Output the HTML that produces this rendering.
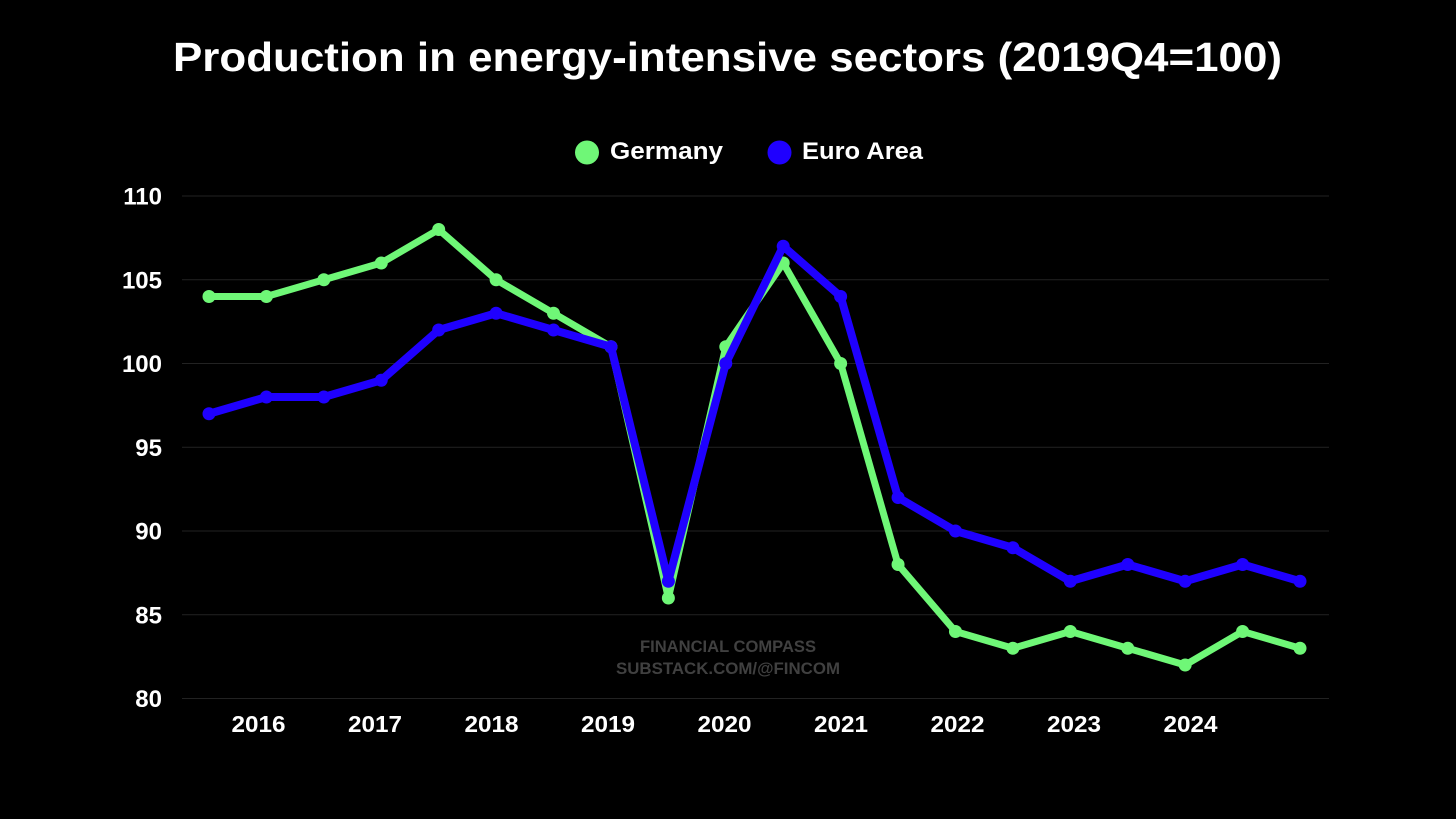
<!DOCTYPE html>
<html lang="en">
<head>
<meta charset="utf-8">
<title>Production in energy-intensive sectors</title>
<style>
html,body{margin:0;padding:0;background:#000;width:1456px;height:819px;overflow:hidden}
svg{display:block}
text{font-family:"Liberation Sans",sans-serif}
</style>
</head>
<body>
<svg id="chart" width="1456" height="819" viewBox="0 0 1456 819" xmlns="http://www.w3.org/2000/svg">
  <rect width="1456" height="819" fill="#000"/>
  <text x="173" y="71" font-size="41" font-weight="700" fill="#fff" textLength="1109" lengthAdjust="spacingAndGlyphs">Production in energy-intensive sectors (2019Q4=100)</text>
  <g>
    <g>
      <circle cx="587" cy="152.500" r="12" fill="#6ff777"/>
      <text x="610" y="159" font-size="24" font-weight="700" fill="#fff" textLength="113" lengthAdjust="spacingAndGlyphs">Germany</text>
    </g>
    <g>
      <circle cx="779.500" cy="152.500" r="12" fill="#1f00ff"/>
      <text x="802" y="159" font-size="24" font-weight="700" fill="#fff" textLength="121" lengthAdjust="spacingAndGlyphs">Euro Area</text>
    </g>
  </g>
  <g id="grid"></g>
  <g id="y-axis"></g>
  <g id="x-axis"></g>
  <g fill="#404040" font-size="16.500" font-weight="700" text-anchor="middle">
    <text x="728" y="652" textLength="176" lengthAdjust="spacingAndGlyphs">FINANCIAL COMPASS</text>
    <text x="728" y="674" textLength="224" lengthAdjust="spacingAndGlyphs">SUBSTACK.COM/@FINCOM</text>
  </g>
  <g id="series"></g>
</svg>
<script>
const quarters = ["2015H2","2016H1","2016H2","2017H1","2017H2","2018H1","2018H2","2019H1","2019H2","2020H1","2020H2","2021H1","2021H2","2022H1","2022H2","2023H1","2023H2","2024H1","2024H2","2024Q4"];
const germany = [104,104,105,106,108,105,103,101,86,101,106,100,88,84,83,84,83,82,84,83];
const euroArea = [97,98,98,99,102,103,102,101,87,100,107,104,92,90,89,87,88,87,88,87];
const yTicks = [80,85,90,95,100,105,110];
const yearLabels = ["2016","2017","2018","2019","2020","2021","2022","2023","2024"];

const NS = "http://www.w3.org/2000/svg";
const plot = {left:182, right:1329, top:196, bottom:698.5, yMin:80, yMax:110, xFirst:209, xLast:1300};
function xScale(i){ return plot.xFirst + i * (plot.xLast - plot.xFirst) / (quarters.length - 1); }
function yScale(v){ return plot.bottom - (v - plot.yMin) * (plot.bottom - plot.top) / (plot.yMax - plot.yMin); }
function yearX(i){ return 258.500 + i * 116.500; }
function make(tag, attrs, parent){
  const el = document.createElementNS(NS, tag);
  for (const k in attrs) el.setAttribute(k, attrs[k]);
  parent.appendChild(el);
  return el;
}
const gridG = document.getElementById("grid");
const yG = document.getElementById("y-axis");
const xG = document.getElementById("x-axis");
const seriesG = document.getElementById("series");

yTicks.forEach(function(t){
  const line = make("line", {x1:plot.left, x2:plot.right, y1:yScale(t), y2:yScale(t), stroke:"#222222", "stroke-width":1}, gridG);
  
  
  const label = make("text", {x:162, y:yScale(t) + 8.5, "text-anchor":"end", "font-size":24, "font-weight":700, fill:"#fff"}, yG);
  
  
  label.textContent = String(t);
});

yearLabels.forEach(function(y, i){
  const label = make("text", {x:yearX(i), y:732, "text-anchor":"middle", "font-size":23, "font-weight":700, fill:"#fff", textLength:54, lengthAdjust:"spacingAndGlyphs"}, xG);
  
  
  label.textContent = y;
});

function drawSeries(values, color, width, name){
  const g = make("g", {}, seriesG);
  
  
  const pts = values.map(function(v, i){ return xScale(i).toFixed(2) + "," + yScale(v).toFixed(2); }).join(" ");
  const line = make("polyline", {points:pts, fill:"none", stroke:color, "stroke-width":width, "stroke-linejoin":"round", "stroke-linecap":"round"}, g);
  
  
  values.forEach(function(v, i){
    const dot = make("circle", {cx:xScale(i), cy:yScale(v), r:6.500, fill:color}, g);
    
    
  });
}
drawSeries(germany, "#6ff777", 7, "series-germany");
drawSeries(euroArea, "#1f00ff", 8, "series-euro-area");
</script>
</body>
</html>
